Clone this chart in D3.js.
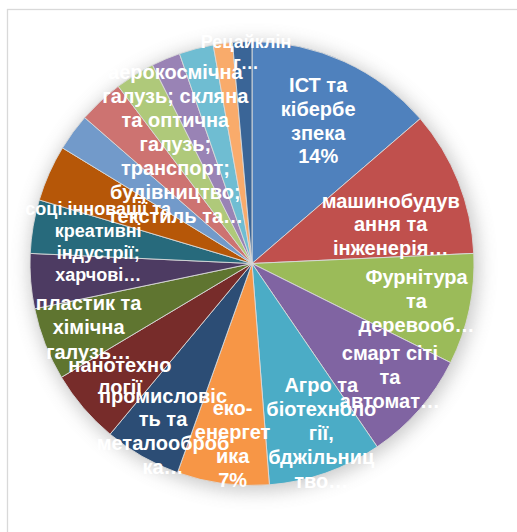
<!DOCTYPE html>
<html>
<head>
<meta charset="utf-8">
<script src="https://cdn.jsdelivr.net/npm/d3@7"></script>
<style>
html,body{margin:0;padding:0;background:#fff;}
svg{display:block;}
</style>
</head>
<body>
<svg id="chart" width="517" height="532"></svg>
<script>
// ---- data ----
const categories = [
  "ІСТ та кібербезпека",
  "машинобудування та інженерія",
  "Фурнітура та деревообробка",
  "смарт сіті та автоматизація",
  "Агро та біотехнології, бджільництво",
  "еко-енергетика",
  "промисловість та металообробка",
  "нанотехнології",
  "пластик та хімічна галузь",
  "харчові",
  "соці.інновації та креативні індустрії",
  "інше 1",
  "інше 2",
  "інше 3",
  "аерокосмічна галузь; скляна та оптична галузь; транспорт; будівництво; текстиль",
  "інше 4",
  "інше 5",
  "інше 6",
  "Рецайклінг"
];
const values = [13.7, 10.6, 8.1, 8.1, 8.3, 6.7, 5.6, 5.4, 5.3, 4.0, 3.9, 4.1, 2.7, 3.3, 2.9, 2.1, 2.5, 1.4, 1.4];
const labelLines = [
  ["ІСТ та", "кібербе", "зпека", "14%"],
  ["машинобудув", "ання та", "інженерія…"],
  ["Фурнітура", "та", "деревооб…"],
  ["смарт сіті", "та", "автомат…"],
  ["Агро та", "біотехноло", "гії,", "бджільниц", "тво…"],
  ["еко-", "енергет", "ика", "7%"],
  ["промисловіс", "ть та", "металооброб", "ка…"],
  ["нанотехно", "логії"],
  ["пластик та", "хімічна", "галузь…"],
  [],
  ["соці.інновації та", "креативні", "індустрії;", "харчові…"],
  [], [], [],
  ["аерокосмічна", "галузь; скляна", "та оптична", "галузь;", "транспорт;", "будівництво;", "текстиль та…"],
  [], [], [],
  ["Рецайклін", "г…"]
];
const colors = ["#4F81BD","#C0504D","#9BBB59","#8064A2","#4BACC6","#F79646",
                "#2C4D75","#772C2A","#5F7530","#4D3B62","#276A7C","#B65708",
                "#729ACA","#CD7371","#AFC97A","#9983B5","#6FBDD2","#F9AB6B","#3A6597"];

// label layout: radial fraction, angle offset (deg), font size, line height
const labelLayout = [
  [0.71, 0.2, 20, 23.7],
  [0.65, 5.7, 20, 23.5],
  [0.76, 0.8, 20, 24],
  [0.805, -1.6, 20, 24],
  [0.825, -2.8, 20, 24],
  [0.815, -1.4, 20, 24],
  [0.855, -1.7, 20, 23.7],
  [0.78, 0.3, 20, 22],
  [0.79, 0, 20, 24.5],
  null,
  [0.70, -1.5, 18, 22.3],
  null, null, null,
  [0.64, -0.8, 20, 24],
  null, null, null,
  [0.955, 0.9, 18, 21]
];

// ---- drawing ----
const svg = d3.select("#chart");
const cx = 252, cy = 263.5, R = 222;

const defs = svg.append("defs");
const f = defs.append("filter").attr("id","shadow")
  .attr("x","-30%").attr("y","-30%").attr("width","160%").attr("height","160%");
f.append("feGaussianBlur").attr("stdDeviation", 9);

// frame
svg.append("rect").attr("x",7.5).attr("y",9.5).attr("width",560).attr("height",560)
  .attr("fill","none").attr("stroke","#d9d9d9").attr("stroke-width",1.3);

const g = svg.append("g").attr("transform",`translate(${cx},${cy})`);

g.append("circle").attr("r", R+3).attr("cx",2).attr("cy",3)
  .attr("fill","#8c8c8c").attr("opacity",0.45).attr("filter","url(#shadow)");

const pie = d3.pie().sort(null).value(d => d);
const arcs = pie(values);
const arc = d3.arc().innerRadius(0).outerRadius(R);

g.selectAll("path.slice").data(arcs).enter().append("path")
  .attr("class","slice")
  .attr("d", arc)
  .attr("fill", (d,i) => colors[i])
  .attr("stroke", "#d9d9d9")
  .attr("stroke-width", 0.9);

g.selectAll("text.lbl").data(arcs.filter((d,i)=>labelLayout[i])).enter()
  .append("text").attr("class","lbl")
  .attr("font-family","'Liberation Sans', Arial, sans-serif")
  .attr("font-weight","bold")
  .attr("fill","#fff")
  .attr("text-anchor","middle")
  .each(function(d){
    const i = d.index;
    const [rf, off, fs, lh] = labelLayout[i];
    const a = (d.startAngle + d.endAngle)/2 + off*Math.PI/180;
    const r = R*rf;
    const x = r*Math.sin(a), y = -r*Math.cos(a);
    const lines = labelLines[i];
    const t = d3.select(this).attr("font-size", fs);
    lines.forEach((ln, k) => {
      t.append("tspan").attr("x", x)
        .attr("y", y + (k - (lines.length-1)/2)*lh + fs*0.36)
        .text(ln);
    });
  });
</script>
</body>
</html>
